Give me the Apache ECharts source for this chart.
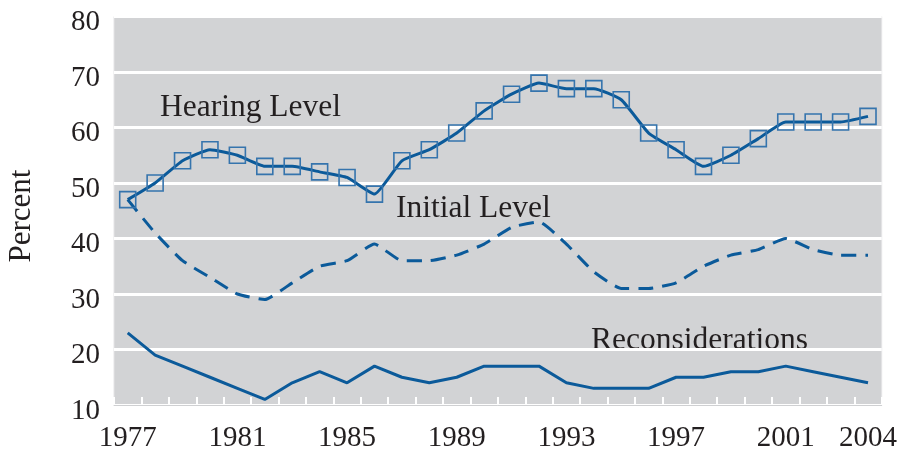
<!DOCTYPE html>
<html><head><meta charset="utf-8">
<script src="https://cdn.jsdelivr.net/npm/echarts@6/dist/echarts.min.js"></script>
<style>html,body{margin:0;padding:0;background:#fff}#c{width:900px;height:456px}</style>
</head><body><div id="c"></div>
<script>
const years = ['1977','1978','1979','1980','1981','1982','1983','1984','1985','1986','1987','1988','1989','1990','1991','1992','1993','1994','1995','1996','1997','1998','1999','2000','2001','2002','2003','2004'];
const hearingLevel = [47,50,54,56,55,53,53,52,51,48,54,56,59,63,66,68,67,67,65,59,56,53,55,58,61,61,61,62];
const initialLevel = [47,41,36,33,30,29,32,35,36,39,36,36,37,39,42,43,39,34,31,31,32,35,37,38,40,38,37,37];
const reconsiderations = [23,19,17,15,13,11,14,16,14,17,15,14,15,17,17,17,14,13,13,13,15,15,16,16,17,16,15,14];
const yTicks = [10,20,30,40,50,60,70,80];
const shownYears = ['1977','1981','1985','1989','1993','1997','2001','2004'];

const FONT = '"Liberation Serif","Times New Roman",serif';
const TXT = '#231f20';
const LINE = '#0b5a9a';

const chart = echarts.init(document.getElementById('c'));
chart.setOption({
  animation: false,
  backgroundColor: '#ffffff',
  grid: {left: 114, right: 18, top: 16.5, bottom: 51, show: true, backgroundColor: '#d2d3d5', borderColor: '#e4e4e6', borderWidth: 1},
  xAxis: {
    type: 'category', data: years, boundaryGap: true,
    axisLine: {show: true, lineStyle: {color: '#cfd0d2', width: 1}},
    axisTick: {show: true, inside: true, length: 8, lineStyle: {color: '#ffffff', width: 2}, interval: 0},
    axisLabel: {
      interval: 0, margin: 19,
      formatter: v => shownYears.includes(v) ? v : '',
      fontFamily: FONT, fontSize: 29, color: TXT
    },
    splitLine: {show: false}
  },
  yAxis: {
    type: 'value', min: yTicks[0], max: yTicks[yTicks.length-1], interval: 10,
    axisLine: {show: false}, axisTick: {show: false},
    axisLabel: {
      margin: 14, color: TXT,
      formatter: v => '{a|' + v + '}',
      rich: {a: {fontFamily: FONT, fontSize: 29, color: TXT, padding: [12, 0, 0, 0]}}
    },
    splitLine: {show: true, lineStyle: {color: '#ffffff', width: 3}}
  },
  series: [
    {name: 'Hearing Level', type: 'line', data: hearingLevel, smooth: 0.15,
     symbol: 'rect', symbolSize: 16, showAllSymbol: true,
     itemStyle: {color: 'rgba(0,0,0,0)', borderColor: '#3574ad', borderWidth: 1.6},
     lineStyle: {color: LINE, width: 3}, z: 3},
    {name: 'Initial Level', type: 'line', data: initialLevel, smooth: 0.15,
     symbol: 'none',
     lineStyle: {color: LINE, width: 3, type: [15, 9]}},
    {name: 'Reconsiderations', type: 'line', data: reconsiderations,
     symbol: 'none',
     lineStyle: {color: LINE, width: 3}}
  ],
  graphic: [
    {type: 'text', left: 160, top: 92, style: {text: 'Hearing Level', font: '31.5px ' + FONT, fill: TXT}},
    {type: 'text', left: 396, top: 193, style: {text: 'Initial Level', font: '31.5px ' + FONT, fill: TXT}},
    {type: 'text', left: 591, top: 325, style: {text: 'Reconsiderations', font: '31.5px ' + FONT, fill: TXT}},
    {type: 'text', x: 22, y: 216, rotation: Math.PI/2, style: {text: 'Percent', font: '31px ' + FONT, fill: TXT, align: 'center', verticalAlign: 'middle'}}
  ]
});
</script></body></html>
